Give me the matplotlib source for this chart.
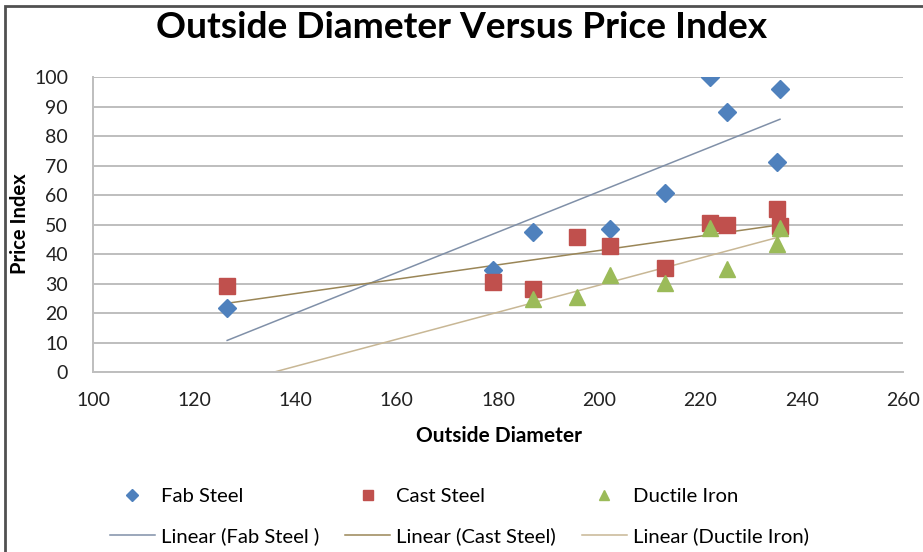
import numpy as np
import matplotlib.pyplot as plt
from matplotlib.patches import Rectangle
from matplotlib.lines import Line2D

plt.rcParams['font.family'] = ['Lato', 'DejaVu Sans']

# outside diameter / price index per material
fab_x = [126.5, 179.1, 187.0, 202.1, 212.9, 221.9, 225.2, 235.2, 235.7]
fab_y = [21.7, 34.7, 47.5, 48.6, 60.9, 100.0, 88.3, 71.4, 95.9]

cast_x = [126.5, 179.1, 187.0, 195.7, 202.1, 212.9, 221.9, 225.2, 235.2, 235.7]
cast_y = [29.4, 30.7, 28.1, 46.0, 42.9, 35.5, 50.5, 50.0, 55.4, 49.7]

duct_x = [187.0, 195.7, 202.1, 212.9, 221.9, 225.2, 235.2, 235.7]
duct_y = [24.7, 25.6, 33.0, 30.2, 48.8, 35.0, 43.4, 48.8]

x_ticks = [100, 120, 140, 160, 180, 200, 220, 240, 260]
y_ticks = [0, 10, 20, 30, 40, 50, 60, 70, 80, 90, 100]

fig = plt.figure(figsize=(9.23, 5.52), dpi=100)
fig.patch.set_facecolor('white')

# outer chart border (top and left edges visible)
fig.patches.append(Rectangle((5 / 923, -0.1), 1.2, 1 - 6 / 552 + 0.1,
                             transform=fig.transFigure, fill=False,
                             edgecolor='#505050', linewidth=2.0))

ax = fig.add_axes([93 / 923, 1 - 372.3 / 552, (903 - 93) / 923, (372.3 - 77.3) / 552])

series = [
    ('Fab Steel', fab_x, fab_y, 'D', 9.5, '#4F81BD', '#8090A8', 'Linear (Fab Steel )'),
    ('Cast Steel', cast_x, cast_y, 's', 11, '#C0504D', '#9A8657', 'Linear (Cast Steel)'),
    ('Ductile Iron', duct_x, duct_y, '^', 12, '#9BBB59', '#C8B795', 'Linear (Ductile Iron)'),
]

# trendlines span the shared diameter column
all_x = fab_x + cast_x + duct_x
x_fit = np.array([min(all_x), max(all_x)])

handles, labels = [], []
for name, xs, ys, mk, ms, col, tcol, tname in series:
    ax.plot(xs, ys, linestyle='none', marker=mk, markersize=ms,
            markerfacecolor=col, markeredgecolor=col, zorder=3)
    k, b = np.polyfit(xs, ys, 1)
    ax.plot(x_fit, k * x_fit + b, color=tcol, linewidth=1.1, zorder=2)
    handles.append(Line2D([], [], linestyle='none', marker=mk, markersize=ms * 0.62,
                          markerfacecolor=col, markeredgecolor=col))
    labels.append(name)
    handles.append(Line2D([], [], color=tcol, linewidth=1.1))
    labels.append(tname)

ax.set_xlim(100, 260)
ax.set_ylim(0, 100)
ax.set_xticks(x_ticks)
ax.set_yticks(y_ticks)
ax.tick_params(length=0, labelsize=14, colors='#222222')
ax.tick_params(axis='x', pad=14)
ax.tick_params(axis='y', pad=18)
ax.grid(axis='y', color='#BEBEBE', linewidth=1.4)
ax.set_axisbelow(True)
for s in ['top', 'right']:
    ax.spines[s].set_visible(False)
for s in ['left', 'bottom']:
    ax.spines[s].set_color('#BEBEBE')
    ax.spines[s].set_linewidth(1.4)

fig.text(499 / 923, 1 - 436 / 552, 'Outside Diameter', fontsize=15,
         fontweight='bold', ha='center', va='center')
fig.text(20 / 923, 1 - 224 / 552, 'Price Index', rotation=90, fontsize=14.5,
         fontweight='bold', ha='center', va='center')

fig.text(462 / 923, 1 - 27 / 552, 'Outside Diameter Versus Price Index',
         fontsize=26.7, fontweight='bold', ha='center', va='center')

fig.legend(handles, labels, ncol=3, loc='upper left', bbox_to_anchor=(110 / 923, 1 - 488 / 552),
           frameon=False, fontsize=14.6, handlelength=2.2, handletextpad=0.3,
           columnspacing=1.3, labelspacing=1.1, borderpad=0, borderaxespad=0)

fig.savefig('out.png', dpi=100, facecolor='white')
